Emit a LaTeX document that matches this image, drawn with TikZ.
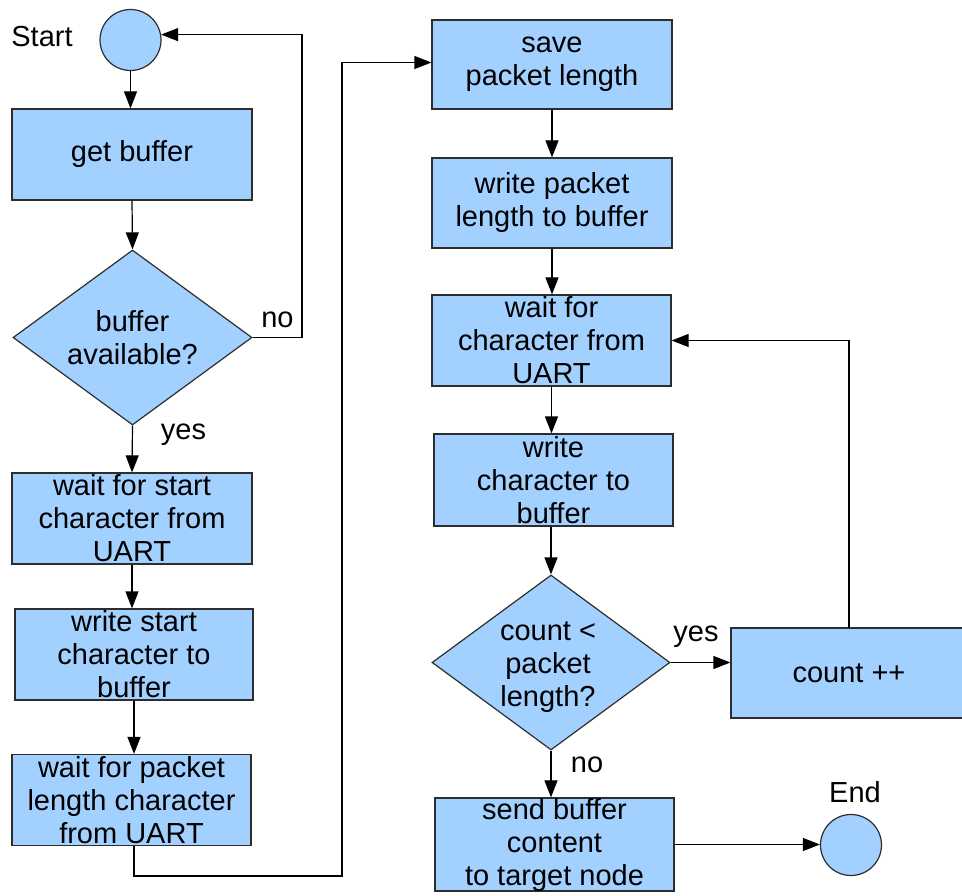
\documentclass[tikz,border=0pt]{standalone}
\usepackage{fontspec}
\setmainfont{Liberation Sans}
\usetikzlibrary{shapes.geometric,arrows.meta}

\definecolor{boxfill}{RGB}{163,209,255}
\definecolor{boxline}{RGB}{45,45,45}

\begin{document}
\begin{tikzpicture}[x=1pt,y=-1pt,
  every node/.style={font=\fontsize{29}{33}\selectfont},
  proc/.style={rectangle, draw=boxline, fill=boxfill, line width=1.2pt,
    minimum width=240, minimum height=90, inner sep=0pt, align=center},
  term/.style={circle, draw=boxline, fill=boxfill, line width=1.2pt,
    minimum size=61, inner sep=0pt},
  decision/.style={diamond, draw=boxline, fill=boxfill, line width=1.2pt,
    minimum width=239, minimum height=175, inner sep=0pt},
  plain/.style={inner sep=0pt, align=center},
  flow/.style={draw=black, line width=1.2pt, -{Triangle[length=17pt,width=13pt]}},
  link/.style={draw=black, line width=1.2pt}
]
\useasboundingbox (0,0) rectangle (962,896);

% left column
\node[term] (start) at (130.5,40) {};
\node[plain] (startlbl) at (42,37) {Start};
\node[proc, minimum height=91] (getbuf) at (132,154.5) {get buffer};
\node[decision] (avail) at (132.5,337.5) {};
\node[plain] (availtxt) at (132.5,338) {buffer\\available?};
\node[proc, minimum height=91] (waitstart) at (132,518.5) {wait for start\\character from\\UART};
\node[proc, minimum width=238, minimum height=91] (writestart) at (134,654.5) {write start\\character to\\buffer};
\node[proc, minimum width=239, minimum height=91] (waitlen) at (131.5,800) {wait for packet\\length character\\from UART};

% right column
\node[proc, minimum height=89] (save) at (552,64.5) {save\\packet length};
\node[proc] (writelen) at (552,203) {write packet\\length to buffer};
\node[proc, minimum width=239, minimum height=91] (waitchar) at (551.5,340.5) {wait for\\character from\\UART};
\node[proc, minimum width=239, minimum height=92] (writechar) at (553.5,480) {write\\character to\\buffer};
\node[decision, minimum width=238] (cmp) at (551,662.5) {};
\node[plain] (cmptxt) at (548,667) {count <\\packet\\length?};
\node[proc, minimum width=236] (count) at (849,673) {count ++};
\node[proc, minimum width=239, minimum height=89] (send) at (554.5,844.5) {send buffer\\content\\to target node};
\node[term] (finish) at (851,845) {};
\node[plain] (endlbl) at (855,792) {End};

% branch labels
\node[plain] (nolbl) at (277.5,320) {no};
\node[plain] (yeslbl) at (183.5,435) {yes};
\node[plain] (yeslbl2) at (696,637) {yes};
\node[plain] (nolbl2) at (587,765) {no};

% turning points
\coordinate (backup) at (302,337.5);
\coordinate (lowturn) at (342,876);
\coordinate (loopup) at (849,628);

% connectors, left column
\draw[flow] (start.south) -- (start.south |- getbuf.north);
\draw[flow] (getbuf.south) -- (avail.north);
\draw[flow] (avail.east) -- (backup) |- (start.10);
\draw[flow] (avail.south) -- (waitstart.north);
\draw[flow] (waitstart.south) -- (waitstart.south |- writestart.north);
\draw[flow] (writestart.south) -- (writestart.south |- waitlen.north);
\draw[flow] ([xshift=2.5pt]waitlen.south) |- (lowturn) |- ([yshift=2pt]save.west);

% connectors, right column
\draw[flow] (save.south) -- (writelen.north);
\draw[flow] (writelen.south) -- (writelen.south |- waitchar.north);
\draw[flow] (waitchar.south) -- (waitchar.south |- writechar.north);
\draw[flow] (cmp.north |- writechar.south) -- (cmp.north);
\draw[flow] (cmp.east) -- (cmp.east -| count.west);
\draw[flow] (loopup) |- (waitchar.east);
\draw[flow] (cmp.south) -- (cmp.south |- send.north);
\draw[flow] (send.east) -- (send.east -| finish.west);
\end{tikzpicture}
\end{document}
